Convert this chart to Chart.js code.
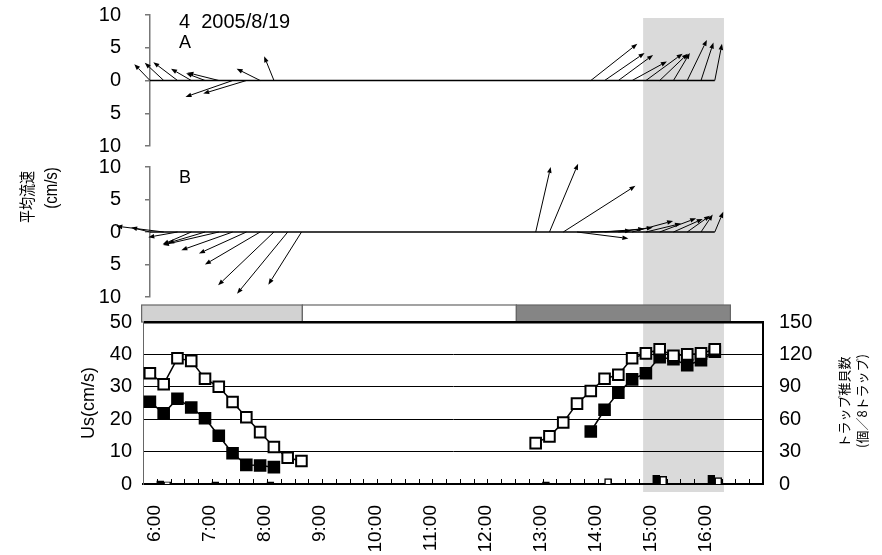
<!DOCTYPE html>
<html lang="ja">
<head>
<meta charset="UTF-8">
<title>平均流速とトラップ稚貝数 2005/8/19</title>
<script src="https://cdn.jsdelivr.net/npm/chart.js"></script>
<style>
	body { margin: 0; background: #fff; }
	#wrap { position: relative; width: 882px; height: 555px; }
	#wrap canvas { position: absolute; left: 0; top: 0; }
</style>
</head>
<body>
<div id="wrap">
	<canvas id="bottomChart" width="882" height="555"></canvas>
	<canvas id="panelA" width="882" height="555"></canvas>
	<canvas id="panelB" width="882" height="555"></canvas>
</div>
<script>
const _ = null;

// 15 minute sampling times
const times = ['6:00', '6:15', '6:30', '6:45', '7:00', '7:15', '7:30', '7:45', '8:00', '8:15', '8:30', '8:45',
	'9:00', '9:15', '9:30', '9:45', '10:00', '10:15', '10:30', '10:45', '11:00', '11:15', '11:30', '11:45',
	'12:00', '12:15', '12:30', '12:45', '13:00', '13:15', '13:30', '13:45', '14:00', '14:15', '14:30', '14:45',
	'15:00', '15:15', '15:30', '15:45', '16:00', '16:15'];
const hourLabels = ['6:00', '7:00', '8:00', '9:00', '10:00', '11:00', '12:00', '13:00', '14:00', '15:00', '16:00'];

// Us (cm/s), station A = filled squares, station B = open squares
const usA = [25.4, 21.8, 26.3, 23.6, 20.3, 14.9, 9.5, 5.9, 5.7, 5.2, _, _,
	_, _, _, _, _, _, _, _, _, _, _, _,
	_, _, _, _, _, _, _, _, 16.2, 22.9, 28.2, 32.3,
	34.2, 39.1, 38.5, 36.7, 38.2, 40.8];
const usB = [34.2, 30.8, 38.8, 38.0, 32.5, 30.0, 25.3, 20.6, 16.0, 11.4, 8.1, 7.1,
	_, _, _, _, _, _, _, _, _, _, _, _,
	_, _, _, _, 12.6, 14.7, 19.0, 24.8, 28.7, 32.5, 33.7, 38.8,
	40.3, 41.6, 39.6, 40.0, 40.3, 41.6];

// trap counts (個/8トラップ)
const trapA = [_, 3, _, _, _, 2, _, _, _, 2, _, _,
	_, _, _, _, _, _, _, _, _, _, _, _,
	_, _, _, _, _, 2, _, _, _, _, _, _,
	_, 8, _, _, _, 8];
const trapB = [_, 2, _, _, _, _, _, _, _, _, _, _,
	_, _, _, _, _, _, _, _, _, _, _, _,
	_, _, _, _, _, _, _, _, _, 5, _, _,
	_, 7, _, _, _, 6];

// mean current vectors (east, north) in cm/s
const aU = [-2.4, -2.9, -3.7, -3.1, -2.9, -4.8, -7.2, -6.6, -3.6, -1.5, _, _,
	_, _, _, _, _, _, _, _, _, _, _, _,
	_, _, _, _, _, _, _, _, 7.1, 6.1, 5.3, 5.3,
	5.6, 4.3, 2.5, 3.0, 1.9, 1.1];
const aV = [2.5, 2.7, 2.8, 1.8, 1.1, 1.2, -2.5, -2.0, 1.8, 3.7, _, _,
	_, _, _, _, _, _, _, _, _, _, _, _,
	_, _, _, _, _, _, _, _, 5.6, 4.2, 3.9, 2.9,
	4.1, 4.1, 4.2, 6.2, 5.8, 5.6];
const bU = [-2.9, -7.3, -4.5, -4.4, -5.7, -8.6, -7.9, -7.3, -8.5, -8.6, -7.8, -5.1,
	_, _, _, _, _, _, _, _, _, _, _, _,
	_, _, _, _, 2.3, 4.4, 11.1, 7.9, 6.2, 6.1, 5.3, 6.3,
	5.4, 5.6, 4.5, 3.5, 1.8, 1.3];
const bV = [0.7, 0.9, -0.8, -1.9, -1.7, -2.0, -2.8, -3.3, -5.0, -8.2, -9.5, -8.1,
	_, _, _, _, _, _, _, _, _, _, _, _,
	_, _, _, _, 10.0, 10.5, 7.1, -1.0, 0.2, 0.5, 0.7, 1.7,
	1.3, 2.1, 2.0, 2.5, 2.7, 3.1];

// tide stage boundaries and the shaded period
const tideTimes = ['5:51', '8:46', '12:39', '16:32'];
const shadeTimes = ['14:57', '16:25'];

const toHours = s => { const [h, m] = s.split(':').map(Number); return h + m / 60; };
const hrs = times.map(toHours);
const X_MIN = 5.875, X_MAX = 17.125;

Chart.defaults.font.family = "'Liberation Sans', Arial, sans-serif";
Chart.defaults.color = '#000';

const pts = arr => arr.map((v, i) => ({ x: hrs[i], y: v }));
const barPts = arr => pts(arr).filter(p => p.y !== null);

// grey background period + tide bar above the lower plot
const backPlugin = {
	id: 'back',
	beforeDraw(chart) {
		const { ctx, chartArea, scales: { x } } = chart;
		ctx.save();
		const s0 = x.getPixelForValue(toHours(shadeTimes[0]));
		const s1 = x.getPixelForValue(toHours(shadeTimes[1]));
		ctx.fillStyle = '#dadada';
		ctx.fillRect(s0, 18, s1 - s0, 492 - 18);

		const fills = ['#d2d2d2', '#ffffff', '#858585'];
		const top = chartArea.top - 17;
		for (let i = 0; i < tideTimes.length - 1; i++) {
			const t0 = x.getPixelForValue(toHours(tideTimes[i]));
			const t1 = x.getPixelForValue(toHours(tideTimes[i + 1]));
			ctx.fillStyle = fills[i];
			ctx.fillRect(t0, top, t1 - t0, 17);
			ctx.strokeStyle = '#666';
			ctx.lineWidth = 1.2;
			ctx.strokeRect(t0, top, t1 - t0, 17);
		}
		ctx.restore();
	}
};

// small inside tick marks every 15 minutes + free text
const decoPlugin = {
	id: 'deco',
	afterDraw(chart) {
		const { ctx, chartArea, scales: { x } } = chart;
		ctx.save();
		ctx.strokeStyle = '#000';
		ctx.lineWidth = 1;
		for (let v = X_MIN + 0.25; v < X_MAX; v += 0.25) {
			const px = Math.round(x.getPixelForValue(v)) + 0.5;
			ctx.beginPath();
			ctx.moveTo(px, chartArea.bottom);
			ctx.lineTo(px, chartArea.bottom - 5);
			ctx.stroke();
		}

		ctx.fillStyle = '#000';
		ctx.textBaseline = 'alphabetic';
		ctx.textAlign = 'left';
		ctx.font = "20px 'Liberation Sans', Arial, sans-serif";
		ctx.fillText('4  2005/8/19', 179, 28);
		ctx.font = "18px 'Liberation Sans', Arial, sans-serif";
		ctx.fillText('A', 179, 48);
		ctx.fillText('B', 179, 183);

		const vtext = (txt, px, py, font, stretch) => {
			ctx.save();
			ctx.translate(px, py);
			ctx.scale(stretch, 1);
			ctx.rotate(-Math.PI / 2);
			ctx.textAlign = 'center';
			ctx.textBaseline = 'middle';
			ctx.font = font;
			ctx.fillText(txt, 0, 0);
			ctx.restore();
		};
		vtext('平均流速', 27, 197, "13px 'Noto Sans CJK JP', sans-serif", 1.25);
		vtext('(cm/s)', 52, 188, "15px 'Liberation Sans', Arial, sans-serif", 1.2);
		vtext('トラップ稚貝数', 844, 402, "13px 'Noto Sans CJK JP', sans-serif", 1);
		vtext('(個／8トラップ)', 862, 401, "13px 'Noto Sans CJK JP', sans-serif", 1);
		ctx.restore();
	}
};

new Chart(document.getElementById('bottomChart'), {
	type: 'line',
	data: {
		datasets: [
			{
				label: 'Us B', data: pts(usB), yAxisID: 'y',
				borderColor: '#000', borderWidth: 1.5, spanGaps: false,
				pointStyle: 'rect', pointRadius: 7.5, pointBackgroundColor: '#fff',
				pointBorderColor: '#000', pointBorderWidth: 2
			},
			{
				label: 'Us A', data: pts(usA), yAxisID: 'y',
				borderColor: '#000', borderWidth: 1.5, spanGaps: false,
				pointStyle: 'rect', pointRadius: 7.5, pointBackgroundColor: '#000',
				pointBorderColor: '#000', pointBorderWidth: 2
			},
			{
				type: 'bar', label: 'trap A', data: barPts(trapA), yAxisID: 'y2',
				backgroundColor: '#000', borderColor: '#000', borderWidth: 1, barThickness: 7
			},
			{
				type: 'bar', label: 'trap B', data: barPts(trapB), yAxisID: 'y2',
				backgroundColor: '#fff', borderColor: '#000', borderWidth: 1.5, barThickness: 7
			}
		]
	},
	options: {
		responsive: false,
		animation: false,
		layout: { padding: { left: 0, right: 0, top: 322, bottom: 0 } },
		plugins: { legend: { display: false }, tooltip: { enabled: false } },
		scales: {
			x: {
				type: 'linear', min: X_MIN, max: X_MAX, offset: false,
				afterBuildTicks: s => { s.ticks = hourLabels.map(l => ({ value: toHours(l) })); },
				afterFit: s => { s.height = 71; },
				grid: { display: false, drawTicks: false },
				border: { display: true, color: '#000', width: 2 },
				ticks: {
					autoSkip: false, minRotation: 90, maxRotation: 90, padding: 21, labelOffset: 5,
					font: { size: 19 },
					callback: v => hourLabels.find(l => toHours(l) === v)
				}
			},
			y: {
				position: 'left', min: 0, max: 50,
				afterFit: s => { s.width = 143; },
				ticks: { stepSize: 10, padding: 11, font: { size: 20 } },
				grid: { color: '#000', lineWidth: c => (c.tick.value === 50 ? 2.5 : 1), drawTicks: false },
				border: { color: '#666', width: 1 },
				title: { display: true, text: 'Us(cm/s)', font: { size: 18 }, padding: { top: 78, bottom: 0 } }
			},
			y2: {
				position: 'right', min: 0, max: 150,
				afterFit: s => { s.width = 119; },
				ticks: { stepSize: 30, padding: 16, font: { size: 20 } },
				grid: { display: false, drawTicks: false },
				border: { color: '#000', width: 2 }
			}
		}
	},
	plugins: [backPlugin, decoPlugin]
});

// stick arrows: tail on the zero line at each time, same px/(cm/s) both ways
const arrowPlugin = (us, vs) => ({
	id: 'arrows',
	afterDatasetsDraw(chart) {
		const { ctx, scales: { x, y } } = chart;
		const unit = y.getPixelForValue(0) - y.getPixelForValue(1);
		ctx.save();
		ctx.strokeStyle = '#000';
		ctx.fillStyle = '#000';
		ctx.lineWidth = 1;
		us.forEach((u, i) => {
			if (u === null) return;
			const x0 = x.getPixelForValue(hrs[i]);
			const y0 = y.getPixelForValue(0);
			const x1 = x0 + u * unit;
			const y1 = y.getPixelForValue(vs[i]);
			const a = Math.atan2(y1 - y0, x1 - x0);
			const L = 6, W = 2.3;
			const bx = x1 - L * Math.cos(a), by = y1 - L * Math.sin(a);
			ctx.beginPath();
			ctx.moveTo(x0, y0);
			ctx.lineTo(bx, by);
			ctx.stroke();
			ctx.beginPath();
			ctx.moveTo(x1, y1);
			ctx.lineTo(bx + W * Math.sin(a), by - W * Math.cos(a));
			ctx.lineTo(bx - W * Math.sin(a), by + W * Math.cos(a));
			ctx.closePath();
			ctx.fill();
		});
		ctx.restore();
	}
});

function panelChart(id, us, vs, top, bottom) {
	return new Chart(document.getElementById(id), {
		type: 'line',
		data: {
			datasets: [{
				data: hrs.map(h => ({ x: h, y: 0 })),
				borderColor: '#000', borderWidth: 1.5, pointRadius: 0
			}]
		},
		options: {
			responsive: false,
			animation: false,
			layout: { padding: { left: 0, right: 119, top: top, bottom: 555 - bottom } },
			plugins: { legend: { display: false }, tooltip: { enabled: false } },
			scales: {
				x: { type: 'linear', min: 6, max: X_MAX, display: false },
				y: {
					min: -10, max: 10,
					// wide label gap, but keep the plot top where it is
					afterFit: s => { s.width = 150; s.paddingTop = 0; s.paddingBottom = 0; },
					ticks: { stepSize: 5, padding: 24, font: { size: 20 }, callback: v => Math.abs(v) },
					grid: { drawOnChartArea: false, tickLength: 5, color: '#777', lineWidth: 1.5 },
					border: { color: '#777', width: 1.5 }
				}
			}
		},
		plugins: [arrowPlugin(us, vs)]
	});
}

panelChart('panelA', aU, aV, 15, 146);
panelChart('panelB', bU, bV, 167, 297);
</script>
</body>
</html>
